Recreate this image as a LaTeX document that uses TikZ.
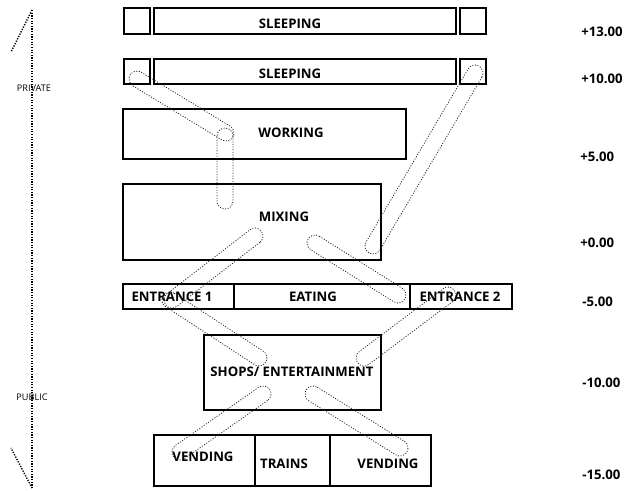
\documentclass[tikz,border=0pt]{standalone}
\usepackage{fontspec}
\setmainfont{Open Sans}
\usetikzlibrary{calc,fit}

% capsule outline between two end centres
\newcommand{\drawpill}[2]{%
  \draw[link] let \p1=(#1), \p2=(#2), \n1={atan2(\y2-\y1,\x2-\x1)} in
    ($(#1)+(\n1+90:0.16cm)$) -- ($(#2)+(\n1+90:0.16cm)$)
    arc[start angle=\n1+90, delta angle=-180, radius=0.16cm]
    -- ($(#1)+(\n1-90:0.16cm)$)
    arc[start angle=\n1-90, delta angle=-180, radius=0.16cm] -- cycle;}

\begin{document}
\begin{tikzpicture}[
    x=0.02cm, y=-0.02cm,
    room/.style={draw, line width=0.9pt, inner sep=0pt},
    roomlbl/.style={font=\bfseries\fontsize{7.5}{9}\selectfont, inner sep=0pt},
    levellbl/.style={font=\bfseries\fontsize{7.5}{9}\selectfont, anchor=west, inner sep=0pt},
    zonelbl/.style={font=\fontsize{5.2}{6}\selectfont, inner sep=0pt},
    link/.style={line width=0.45pt, black!85, dash pattern=on 0.6pt off 0.9pt},
    axis/.style={line width=0.8pt, dash pattern=on 0.7pt off 0.8pt}
]
    \useasboundingbox (0,0) rectangle (625,490);

    % Rooms
    \node[room, fit={(124,8) (150,34)}] (topl) {};
    \node[room, fit={(154,8) (456,34)}] (topsleep) {};
    \node[room, fit={(460,8) (486,34)}] (topr) {};
    \node[room, fit={(124,59) (150,84)}] (midl) {};
    \node[room, fit={(154,59) (456,84)}] (midsleep) {};
    \node[room, fit={(460,59) (486,84)}] (midr) {};
    \node[room, fit={(123,109) (406,159)}] (work) {};
    \node[room, fit={(123,184) (381,260)}] (mix) {};
    \node[room, fit={(123,284) (234,309)}] (ent1) {};
    \node[room, fit={(234,284) (410,309)}] (eat) {};
    \node[room, fit={(410,284) (512,309)}] (ent2) {};
    \node[room, fit={(204,335) (381,410)}] (shops) {};
    \node[room, fit={(154,435) (255,486)}] (vend1) {};
    \node[room, fit={(255,435) (330,486)}] (trains) {};
    \node[room, fit={(330,435) (431,486)}] (vend2) {};

    % Room labels
    \node[roomlbl] (lbl_topsleep) at (290,24) {SLEEPING};
    \node[roomlbl] (lbl_midsleep) at (290,74) {SLEEPING};
    \node[roomlbl] (lbl_work) at (291,133) {WORKING};
    \node[roomlbl] (lbl_mix) at (284,217) {MIXING};
    \node[roomlbl] (lbl_ent1) at (172,297) {ENTRANCE 1};
    \node[roomlbl] (lbl_eat) at (313,297) {EATING};
    \node[roomlbl] (lbl_ent2) at (460,297) {ENTRANCE 2};
    \node[roomlbl] (lbl_shops) at (292,372) {SHOPS/ ENTERTAINMENT};
    \node[roomlbl] (lbl_vend1) at (203,457) {VENDING};
    \node[roomlbl] (lbl_trains) at (284,464) {TRAINS};
    \node[roomlbl] (lbl_vend2) at (388,464) {VENDING};

    % Levels
    \node[levellbl] (lv13) at (581,32) {+13.00};
    \node[levellbl] (lv10) at (581,79) {+10.00};
    \node[levellbl] (lv5) at (580,157) {+5.00};
    \node[levellbl] (lv0) at (580,243) {+0.00};
    \node[levellbl] (lvm5) at (582,302) {-5.00};
    \node[levellbl] (lvm10) at (582,383) {-10.00};
    \node[levellbl] (lvm15) at (582,475) {-15.00};

    % Private / public axis
    \coordinate (ax_top) at (32,10);
    \coordinate (ax_bot) at (32,488);
    \coordinate (barb_top) at (11,52);
    \coordinate (barb_bot) at (11,448);
    \draw[axis] (ax_top) -- (ax_bot);
    \draw[axis] (ax_top) -- (barb_top);
    \draw[axis] (ax_bot) -- (barb_bot);
    \node[zonelbl] (private) at (34,88) {PRIVATE};
    \node[zonelbl] (public) at (32,397) {PUBLIC};

    % Capsule ends
    \coordinate (c1a) at (137,79);  \coordinate (c1b) at (226,133);
    \coordinate (c2a) at (225,136); \coordinate (c2b) at (225,201);
    \coordinate (c3a) at (475,73);  \coordinate (c3b) at (373,246);
    \coordinate (c4a) at (255,236); \coordinate (c4b) at (172,300);
    \coordinate (c5a) at (315,243); \coordinate (c5b) at (398,295);
    \coordinate (c6a) at (170,300); \coordinate (c6b) at (259,358);
    \coordinate (c7a) at (448,295); \coordinate (c7b) at (364,358);
    \coordinate (c8a) at (263,394); \coordinate (c8b) at (180,452);
    \coordinate (c9a) at (313,394); \coordinate (c9b) at (400,448);

    % Links
    \drawpill{c1a}{c1b}
    \drawpill{c2a}{c2b}
    \drawpill{c3a}{c3b}
    \drawpill{c4a}{c4b}
    \drawpill{c5a}{c5b}
    \drawpill{c6a}{c6b}
    \drawpill{c7a}{c7b}
    \drawpill{c8a}{c8b}
    \drawpill{c9a}{c9b}

\end{tikzpicture}
\end{document}
